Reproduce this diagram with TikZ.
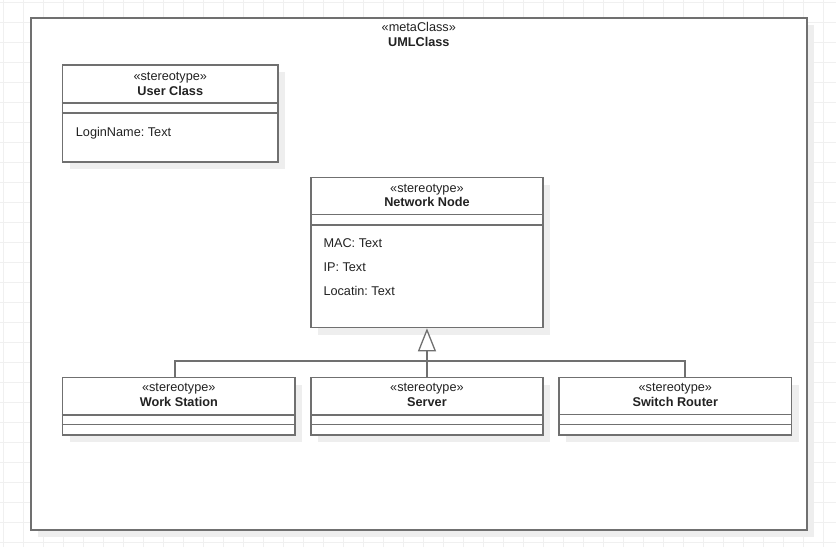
\documentclass[tikz,border=0pt]{standalone}
\usepackage{fontspec}
\setmainfont{Liberation Sans}
\usetikzlibrary{arrows.meta,shadows}
\definecolor{gridc}{RGB}{240,240,240}
\definecolor{edgec}{RGB}{112,112,112}
\definecolor{ink}{RGB}{34,34,34}
\definecolor{shade}{RGB}{238,238,238}
\frenchspacing
\begin{document}
\begin{tikzpicture}[x=1pt,y=-1pt,
  every node/.style={font=\fontsize{12.7}{15}\selectfont, text=ink},
  classbox/.style={draw=edgec, fill=white, line width=1.6pt, rectangle, inner sep=0pt,
    anchor=north west, drop shadow={shadow xshift=7pt, shadow yshift=-7pt, fill=shade, opacity=1}},
  divider/.style={draw=edgec, line width=1.6pt},
  stereo/.style={anchor=base, inner sep=0pt},
  cname/.style={anchor=base, inner sep=0pt, font=\fontsize{12.7}{15}\selectfont\bfseries},
  attr/.style={anchor=base west, inner sep=0pt},
  conn/.style={draw=edgec, line width=1.6pt},
  gline/.style={draw=gridc, line width=1pt}]
\useasboundingbox (0,0) rectangle (836,547);
\fill[white] (0,0) rectangle (836,547);
% background grid
\foreach \gx in {3,23,...,835} \draw[gline] (\gx,0) -- (\gx,547);
\foreach \gy in {2,22,...,546} \draw[gline] (0,\gy) -- (836,\gy);

% outer meta class frame
\node[classbox, minimum width=776pt, minimum height=512pt] (frame) at (30,17) {};
\node[stereo] (metast) at ([yshift=-14pt]frame.north) {«metaClass»};
\node[cname] (metaname) at ([yshift=-29pt]frame.north) {UMLClass};

% User Class
\node[classbox, minimum width=215.6pt, minimum height=96.7pt] (user) at (61.7,64.3) {};
\node[stereo] at ([yshift=-15.7pt]user.north) {«stereotype»};
\node[cname] at ([yshift=-30.7pt]user.north) {User Class};
\draw[divider] ([yshift=-38.7pt]user.north west) -- ([yshift=-38.7pt]user.north east);
\draw[divider] ([yshift=-48.4pt]user.north west) -- ([yshift=-48.4pt]user.north east);
\node[attr] at ([xshift=14pt,yshift=-71.7pt]user.north west) {LoginName: Text};

% Network Node
\node[classbox, minimum width=232.3pt, minimum height=150pt] (nn) at (310,176.7) {};
\node[stereo] at ([yshift=-15.3pt]nn.north) {«stereotype»};
\node[cname] at ([yshift=-30pt]nn.north) {Network Node};
\draw[divider] ([yshift=-37.6pt]nn.north west) -- ([yshift=-37.6pt]nn.north east);
\draw[divider] ([yshift=-48.3pt]nn.north west) -- ([yshift=-48.3pt]nn.north east);
\node[attr] at ([xshift=13.3pt,yshift=-70.6pt]nn.north west) {MAC: Text};
\node[attr] at ([xshift=13.3pt,yshift=-94.8pt]nn.north west) {IP: Text};
\node[attr] at ([xshift=13.3pt,yshift=-118.6pt]nn.north west) {Locatin: Text};

% Work Station
\node[classbox, minimum width=232.6pt, minimum height=57.3pt] (ws) at (61.7,376.7) {};
\node[stereo] at ([yshift=-15pt]ws.north) {«stereotype»};
\node[cname] at ([yshift=-29.5pt]ws.north) {Work Station};
\draw[divider] ([yshift=-38pt]ws.north west) -- ([yshift=-38pt]ws.north east);
\draw[divider] ([yshift=-47.6pt]ws.north west) -- ([yshift=-47.6pt]ws.north east);

% Server
\node[classbox, minimum width=232.3pt, minimum height=57.3pt] (srv) at (310,376.7) {};
\node[stereo] at ([yshift=-15pt]srv.north) {«stereotype»};
\node[cname] at ([yshift=-29.5pt]srv.north) {Server};
\draw[divider] ([yshift=-38pt]srv.north west) -- ([yshift=-38pt]srv.north east);
\draw[divider] ([yshift=-47.6pt]srv.north west) -- ([yshift=-47.6pt]srv.north east);

% Switch Router
\node[classbox, minimum width=232.4pt, minimum height=57.3pt] (sr) at (558.3,376.7) {};
\node[stereo] at ([yshift=-15pt]sr.north) {«stereotype»};
\node[cname] at ([yshift=-29.5pt]sr.north) {Switch Router};
\draw[divider] ([yshift=-37.6pt]sr.north west) -- ([yshift=-37.6pt]sr.north east);
\draw[divider] ([yshift=-47.6pt]sr.north west) -- ([yshift=-47.6pt]sr.north east);

% generalisation connectors
\coordinate (hub) at (426,361);
\draw[conn] ([xshift=-4pt]ws.north) |- (hub) -| ([xshift=9.5pt]sr.north);
\draw[conn, -{Triangle[open, fill=white, length=23pt, width=18pt, line width=1.3pt]}] (srv.north) -- (nn.south);
\end{tikzpicture}
\end{document}
